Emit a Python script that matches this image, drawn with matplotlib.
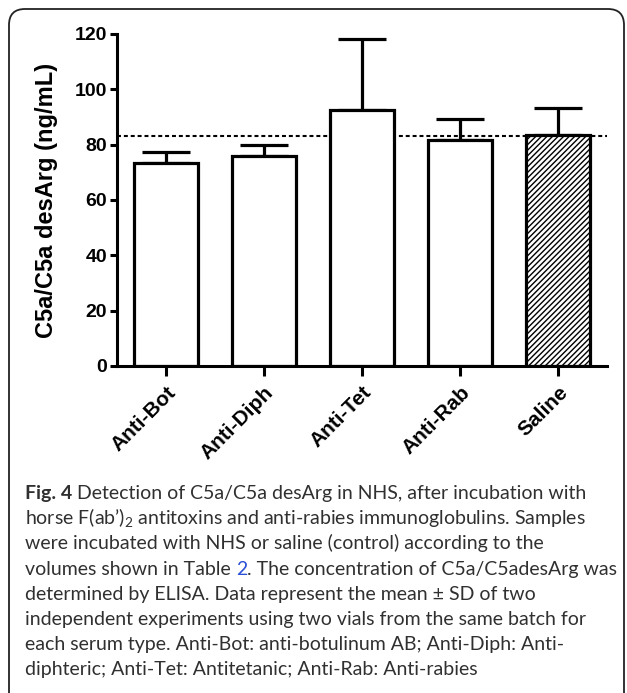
import matplotlib
matplotlib.use("Agg")
from matplotlib import pyplot as plt
from matplotlib.patches import FancyBboxPatch
from matplotlib.transforms import IdentityTransform
import numpy as np

plt.rcParams['font.family'] = ['Liberation Sans', 'DejaVu Sans']
plt.rcParams['hatch.linewidth'] = 1.0
plt.rcParams['mathtext.fontset'] = 'custom'
plt.rcParams['mathtext.rm'] = 'Lato'

groups = ['Anti-Bot', 'Anti-Diph', 'Anti-Tet', 'Anti-Rab', 'Saline']
means = [73.3, 75.8, 92.7, 81.7, 83.5]
sd = [4.1, 4.1, 25.5, 7.5, 9.6]
hatches = ['', '', '', '', '//////']
control_level = 83.3

caption = [
    "horse F(ab\u2019)$_{\\mathrm{2}}$ antitoxins and anti-rabies immunoglobulins. Samples",
    "were incubated with NHS or saline (control) according to the",
    None,
    "determined by ELISA. Data represent the mean \u00b1 SD of two",
    "independent experiments using two vials from the same batch for",
    "each serum type. Anti-Bot: anti-botulinum AB; Anti-Diph: Anti-",
    "diphteric; Anti-Tet: Antitetanic; Anti-Rab: Anti-rabies",
]

W, H = 627, 693
fig = plt.figure(figsize=(W / 100, H / 100), dpi=100)
ax = fig.add_axes([117 / W, 1 - 366 / H, (607 - 117) / W, (366 - 34) / H])

x = np.arange(len(groups))
ax.axhline(control_level, color='black', lw=1.5, ls=(0, (1.9, 1.4)), zorder=1)
for i in range(len(groups)):
    ax.bar(x[i], means[i], width=0.66, color='white', edgecolor='black',
           linewidth=2.3, hatch=hatches[i], zorder=2)
ax.errorbar(x, means, yerr=[np.zeros(len(sd)), sd], fmt='none', ecolor='black',
            elinewidth=2.3, capsize=17, capthick=2.3, zorder=1.5)

ax.set_xlim(-0.5, len(groups) - 0.5)
ax.set_ylim(0, 120)
ax.set_yticks([0, 20, 40, 60, 80, 100, 120])
ax.set_xticks(x)
ax.set_xticklabels(groups, rotation=45, ha='right', va='top',
                   rotation_mode='anchor', fontsize=15, fontweight='bold')
ax.tick_params(axis='y', labelsize=14, width=2.2, length=5, pad=2)
ax.tick_params(axis='x', width=2.2, length=7, pad=5)
for lab in ax.get_yticklabels():
    lab.set_fontweight('bold')
ax.set_ylabel('C5a/C5a desArg (ng/mL)', fontsize=17, fontweight='bold')
ax.yaxis.set_label_coords(-0.12, 0.5)
for s in ['top', 'right']:
    ax.spines[s].set_visible(False)
for s in ['left', 'bottom']:
    ax.spines[s].set_linewidth(2.2)

# frame around the figure panel
frame = FancyBboxPatch((9, -30), 615, H - 9 + 30, boxstyle='round,pad=0,rounding_size=16',
                       transform=IdentityTransform(), facecolor='none',
                       edgecolor='#222222', linewidth=1.3)
fig.add_artist(frame)

# caption
fig.canvas.draw()
r = fig.canvas.get_renderer()
probe = fig.text(0, 0, "volumes shown in Table 2. The concentration of C5a/C5adesArg was",
                 family='Lato', fontsize=10)
w10 = probe.get_window_extent(renderer=r).width
probe.remove()
cap_size = 10 * (617 - 25) / w10

cap_font = dict(family='Lato', fontsize=cap_size, color='#303030', va='baseline')
x0 = 25 / W
y_lines = [(H - (499 + 25.2 * k)) / H for k in range(8)]

def place(parts, y):
    xx = x0
    for txt, extra in parts:
        t = fig.text(xx, y, txt, **{**cap_font, **extra})
        bb = t.get_window_extent(renderer=r)
        xx = bb.x1 / W

place([("Fig. 4", {'fontweight': 'bold'}),
       (" Detection of C5a/C5a desArg in NHS, after incubation with", {})], y_lines[0])
for k, line in enumerate(caption):
    if line is None:
        place([("volumes shown in Table ", {}), ("2", {'color': '#2b4fd6'}),
               (". The concentration of C5a/C5adesArg was", {})], y_lines[k + 1])
    else:
        fig.text(x0, y_lines[k + 1], line, **cap_font)

fig.savefig('out.png', dpi=100)
